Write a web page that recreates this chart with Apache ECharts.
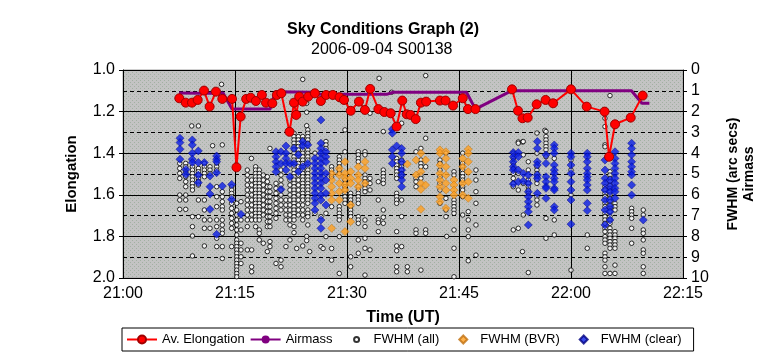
<!DOCTYPE html>
<html>
<head>
<meta charset="utf-8">
<script src="https://cdn.jsdelivr.net/npm/echarts@6/dist/echarts.min.js"></script>
<style>
html,body{margin:0;padding:0;background:#fff;}
#chart{width:766px;height:359px;}
</style>
</head>
<body>
<div id="chart"></div>
<script>
// ---- Data (minutes after 21:00 UT) ----
const timeTicks = ['21:00','21:15','21:30','21:45','22:00','22:15'];
const titleText = 'Sky Conditions Graph (2)';
const subtitleText = '2006-09-04 S00138';

// Av. Elongation [minute, elongation]; null = gap
const avElongation = [
 [7.54,1.136],[8.4,1.157],[9.24,1.157],[10.0,1.144],[10.85,1.099],[11.6,1.176],[12.45,1.104],
 [13.3,1.139],[14.6,1.139],[15.2,1.468],[15.76,1.224],[16.5,1.139],[17.1,1.133],[17.8,1.149],
 [18.6,1.12],[19.15,1.157],[20.0,1.16],[20.6,1.12],[21.2,1.112],[22.3,1.297],[22.9,1.157],
 [23.2,1.216],[23.6,1.128],[24.07,1.152],[24.8,1.128],[25.7,1.112],[26.5,1.149],[27.2,1.12],
 [28.1,1.12],[29.0,1.131],[29.6,1.144],[30.5,1.196],[31.6,1.152],[32.4,1.192],[33.1,1.091],
 [34.2,1.188],[35.0,1.202],[35.85,1.208],[36.65,1.272],[37.4,1.147],[38.0,1.213],[38.5,1.216],
 [39.2,1.236],[39.9,1.157],[40.6,1.152],[42.45,1.147],[43.2,1.147],[44.2,1.171],[45.5,1.136],
 [46.2,1.188],[47.2,1.188],[49.5,null],
 [52.1,1.093],[52.9,1.196],[53.5,1.232],[54.2,1.229],[55.4,1.165],[56.6,1.144],[57.6,1.16],
 [60.0,1.093],[62.1,1.176],[64.5,1.2],[65.1,1.417],[65.9,1.261],[68.0,1.229],[69.6,1.123]
];

// Airmass [minute, airmass]
const airmass = [
 [7.5,1.1],[10.2,1.12],[13.4,1.1],[14.6,1.88],[19.7,1.88],[20.4,1.05],[25.5,1.07],[26.3,1.17],
 [35.3,1.17],[36.2,1.07],[46.0,1.07],[47.2,1.88],[52.0,1.0],[68.1,1.0],[69.5,1.6],[70.5,1.6]
];

// FWHM (all) columns: [minute, [fwhm values]]
const fwhmAllCols = [
 [7.6,[4.49,4.73,4.97,5.21,6.01,6.25,6.7]],
 [8.4,[4.49,4.65,4.89,5.13,5.37,5.61,6.01,6.25,6.7]],
 [9.2,[2.69]],
 [9.3,[4.65,4.81,4.97,5.13,5.29,5.45,5.61,5.77,7.05,7.53,7.98,8.94]],
 [10.1,[2.69,4.73,4.89,5.05,5.21,5.37,5.53,6.25,7.05]],
 [10.9,[4.49,4.65,4.81,4.97,5.13,6.25,6.73,7.21,7.61,8.46]],
 [11.65,[4.65,4.81,4.97,7.21,7.61]],
 [12.0,[3.64]],
 [12.55,[4.49,4.65,4.81,5.61,6.09,6.57,7.21,7.53,8.09,8.49]],
 [13.2,[0.69]],
 [13.3,[3.6,5.85,6.09,6.33,6.57,6.73,7.21,7.45,7.69,7.85,8.49,9.06]],
 [14.55,[5.61,5.77,5.93,6.09,6.41,6.65,6.89,7.13,7.37,7.61,8.49]],
 [15.22,[6.41,6.73,6.97,7.21,7.45,7.69,7.93,8.17,8.33,8.49,8.65,8.81,8.98,9.14,9.3,9.46,9.62,9.78,9.94]],
 [15.8,[6.33,7.21,7.69,8.33,8.65,8.98,9.3]],
 [16.65,[4.81,5.05,5.29,5.53,5.77,6.01,6.25,6.49,6.73,6.97,7.21,7.53,8.65]],
 [17.2,[4.25]],
 [17.23,[5.29,5.53,5.77,6.01,6.25,6.49,6.73,6.97,7.21,8.65,9.46,9.7]],
 [17.76,[4.65,4.81,4.97,5.13,5.29,5.45,5.61,5.77,5.93,6.09,6.25,6.41,6.57,6.73,6.89,7.05,7.21,7.53]],
 [18.25,[4.81,4.97,5.13,5.29,5.45,5.61,5.77,5.93,6.09,6.25,6.41,6.57,6.73,6.89,7.05,7.21,7.69,7.85,8.17]],
 [18.79,[5.05,5.29,5.53,5.77,6.01,6.25,6.49,6.73,6.97,8.33]],
 [19.33,[5.13,5.37,5.61,5.85,6.09,6.33,6.57,6.81,7.05,7.29,7.53,8.73]],
 [19.68,[3.77,5.61,5.85,6.09,6.33,6.57,6.81,7.05,7.29,7.53,8.25,8.49]],
 [20.49,[5.45,5.69,5.93,6.17,6.41,6.65,6.89,7.13,9.3]],
 [21.16,[4.81,5.05,5.29,5.53,5.77,6.01,6.25,6.49,6.73,9.14,9.46]],
 [21.82,[6.25,6.49,6.73,6.97,7.21,8.49]],
 [22.36,[5.29,5.53,5.77,6.01,6.25,6.49,6.73,6.97,7.21,7.45,8.17]],
 [22.9,[3.04,3.2,3.36,3.52,3.68,3.84,4.0,4.17,4.33,4.65,4.81,4.97,5.13,5.29,5.45,5.61,5.77,5.93,6.09,6.25,6.41,6.57,6.73,6.89,7.05,7.21,7.53,7.82]],
 [23.26,[8.58]],
 [23.48,[3.2,3.36,3.52,3.68,3.84,4.0,4.33,4.49,4.65,5.05,5.29,5.53,5.77,6.01,6.25,6.49,6.73,6.97]],
 [24.07,[0.45,3.2,3.36,3.84,4.0,4.17,4.33,4.49,4.81,4.97,5.13,5.29,5.45,5.61,5.77,5.93,6.09,6.25,6.49,6.73,6.97,7.21,8.46]],
 [24.6,[1.6,2.03,2.68,8.0,8.2]],
 [24.75,[2.88,3.04,3.2,3.36,3.52,3.84,4.0,4.17,4.33,4.65,4.81,4.97,5.13,5.29,5.45,5.61,5.77,5.93,6.09,6.25,6.41,6.73,6.89,7.05,7.45]],
 [25.0,[8.73]],
 [25.71,[4.0,6.89]],
 [26.51,[7.05,8.49]],
 [26.8,[8.58]],
 [27.18,[3.44,3.6,3.77,6.89,8.01]],
 [27.94,[4.65,4.81,4.97,5.13,6.57,8.58,9.14]],
 [28.97,[4.17,4.33,4.49,4.65,4.81,4.97,6.57,6.73,6.89,7.05,7.21,8.01,9.78]],
 [29.73,[2.88,3.93,5.29,5.45,5.61,5.77,5.93,6.09,6.25,6.41]],
 [30.49,[5.93,6.09,6.25,6.41,6.57,6.73,6.89,7.05,8.98,9.46]],
 [31.51,[3.93,4.08,4.25,4.41,5.61,5.77,5.93,6.09,6.25,6.41,7.05,7.21,7.37,8.17,8.81]],
 [32.41,[3.93,4.08,5.05,5.21,5.37,5.53,5.69,5.85,7.21,7.53,8.09,8.57,9.86]],
 [33.08,[2.08,5.21,5.45,5.77,8.65]],
 [34.19,[5.37,6.25,7.21,7.34,7.77]],
 [34.3,[0.4]],
 [34.86,[2.96,4.81,4.97,5.13,5.29,5.45,6.73,7.08,7.37]],
 [35.98,[1.07]],
 [36.65,[4.25,4.41,4.57,4.73,4.89,5.05,5.21,5.93,6.09,6.25,6.41,7.77,8.46,8.69,9.46,9.7]],
 [37.32,[2.56,4.33,4.49,4.65,4.81,4.97,5.13,6.25,7.05,8.49]],
 [38.08,[9.46,9.7]],
 [39.24,[3.93,5.21,5.37,5.61,7.69,7.85]],
 [39.9,[3.77,4.33,4.49,4.65,5.05,5.21,9.62]],
 [40.54,[0.27,3.28,4.65,7.69,7.85]],
 [42.45,[4.33,4.49,4.81,5.13,5.45,5.77,6.41]],
 [43.25,[4.0,6.17,6.73,7.05]],
 [43.35,[8.0]],
 [44.33,[4.89,5.05,6.25,6.41,6.57,6.73,6.89,7.69,8.57,9.94]],
 [45.49,[4.0,4.49,4.65,4.81,4.97,5.13,5.29,5.61,5.77,6.09,6.97]],
 [46.24,[6.81,7.21,7.69,8.01,9.17]],
 [47.27,[4.81,5.29,5.85,6.41,7.45,8.9]],
 [52.27,[4.0,4.25,4.49,4.73,4.97,5.21,5.45,5.61,7.69]],
 [52.94,[3.46,3.52,4.97,5.77,7.61]],
 [53.5,[3.46,8.73]],
 [53.61,[3.44,4.08,5.45,6.97]],
 [54.28,[4.41,4.81,5.29,5.45,5.61,5.77,5.93,9.74]],
 [55.44,[3.03,4.0,4.65,4.81,4.97,5.13,5.29,5.45,6.09,6.25,6.49]],
 [56.5,[2.9]],
 [56.65,[2.96,3.2,3.36,3.52,3.68,3.84,4.17,7.13,8.09]],
 [57.76,[4.25,7.21,7.93]],
 [60.0,[4.33,4.81,6.01,9.62]],
 [62.18,[7.93,8.57]],
 [64.55,[2.32,2.72,3.6,3.69,5.61,5.77,5.93,6.09,6.41,6.57,6.89,7.05,7.21,7.37,7.61,7.77,8.01,8.17,8.33,8.81,8.98,9.14,9.46,9.78]],
 [65.22,[1.23,4.89,5.05,5.21,5.37,5.53,5.69,5.85,6.01,6.17,6.33,6.49,6.65,6.81,7.05,7.21,7.37,7.61,7.77,7.93,8.09,8.25,8.41,8.57,9.78]],
 [65.89,[6.41,6.57,6.73,7.77,7.93,8.09,8.25,8.41,8.57,9.38,9.78]],
 [68.12,[6.65,6.81,6.97,7.13,7.61,8.33]],
 [69.68,[6.73,6.97,7.69,7.85,8.17,8.65,8.81,9.46,9.78]]
];

// FWHM (BVR) columns
const fwhmBvrCols = [
 [27.94,[4.97,5.29,5.61,5.93,6.25,7.61]],
 [28.97,[4.73,5.05,5.45,5.85,6.25]],
 [29.73,[4.41,4.97,5.21,5.53,5.77,7.77]],
 [30.49,[4.89,5.21,5.45,6.49,7.29]],
 [31.51,[4.65,5.05,5.29,5.61]],
 [32.41,[4.41,4.73,5.45]],
 [38.08,[4.52]],
 [39.24,[4.33,5.05]],
 [39.9,[4.0,4.89,5.45,5.74,6.7]],
 [40.53,[4.33,5.53]],
 [42.45,[3.84,4.0,4.57,4.97,5.29,5.61,6.09,6.33]],
 [43.25,[3.93,4.25,4.65,5.05,5.45,5.77,6.65]],
 [44.33,[5.29,5.53,5.77,6.01]],
 [45.49,[4.25,4.65,5.45,6.01]],
 [46.24,[3.81,4.0,4.41,4.89,5.37,6.17]]
];

// FWHM (clear) columns
const fwhmClearCols = [
 [7.63,[3.28,3.49,3.81,4.29]],
 [8.43,[4.78,5.02]],
 [9.28,[3.36,3.6,4.0,4.29,4.45]],
 [10.09,[3.89,4.45,5.05,5.42]],
 [10.89,[4.45]],
 [11.65,[5.1,5.61,5.96,6.7]],
 [12.54,[4.13,4.29,4.41,4.94,7.9]],
 [13.3,[5.58]],
 [14.55,[5.5,6.22]],
 [15.8,[6.94]],
 [20.49,[3.93,4.17,4.41,4.65,4.89]],
 [21.16,[3.93,4.49,5.74]],
 [21.82,[3.65,4.0,4.25,4.49,4.81]],
 [22.36,[4.49,5.13]],
 [22.9,[3.77,4.49]],
 [23.48,[4.08,4.89]],
 [24.06,[3.44,3.65,4.65]],
 [24.75,[3.6,4.49]],
 [25.71,[4.25,4.49,4.73,4.97,5.21,5.45,5.69,5.93,6.17,6.41,6.73]],
 [26.51,[2.4,3.52,3.77,4.0,4.25,4.49,4.73,4.97,5.21,5.45,5.69,6.01,6.25,7.21,7.61]],
 [27.18,[3.93,4.17,4.41,4.97,5.29,5.93,6.49]],
 [36.07,[2.85,3.04,3.84,4.17,4.49]],
 [36.65,[3.65]],
 [37.32,[3.77,4.0,4.41,4.81,5.05,5.29,5.61]],
 [52.27,[3.97,4.17,4.41,4.65,4.81,5.48]],
 [52.94,[3.97,4.17,4.81,5.37]],
 [53.61,[4.97,5.34]],
 [54.28,[5.05,5.45,5.85,6.09,6.33,6.57,6.81,7.45]],
 [55.49,[3.44,3.77,4.41,4.57,5.05,5.21,5.93]],
 [56.65,[4.08,4.49,5.13,5.37,5.61,5.69,6.17]],
 [57.76,[3.6,3.77,4.0,4.57,4.81,4.97,5.21,5.37,5.69,5.77,6.57,6.73]],
 [60.0,[4.0,4.17,4.57,4.97,5.37,5.77,6.25,7.41]],
 [62.18,[4.0,4.17,4.41,4.73,4.97,5.13,5.29,5.53,5.77,6.41,6.76]],
 [64.55,[4.33,4.81,5.21,5.45,5.77,6.25,6.73,7.45]],
 [65.22,[5.29,5.61,5.85,6.25,6.57,6.81,7.21]],
 [65.89,[3.93,4.25,4.49,4.73,4.97,5.21,5.45,5.69,5.85,6.17]],
 [68.12,[3.52,3.77,4.08,4.41,4.65,4.89,5.05,5.53,6.01]],
 [69.68,[7.21]]
];

function toPoints(cols){
  const out = [];
  cols.forEach(function(c){ c[1].forEach(function(v){ out.push([c[0], v]); }); });
  return out;
}

// dotted plot-area fill (Excel style texture)
const pat = document.createElement('canvas');
pat.width = 4; pat.height = 4;
(function(){
  const c = pat.getContext('2d');
  c.fillStyle = '#c3c3c3'; c.fillRect(0,0,4,4);
  c.fillStyle = '#a2b0a2'; c.fillRect(0,0,1,1); c.fillRect(2,2,1,1);
})();

// legend icons for marker-only series (small marker inside a 30x8 key)
const iconCircle = 'path://M0,0M30,8M15.5,4A2.5,2.5 0 1 1 20.5,4A2.5,2.5 0 1 1 15.5,4Z';
const iconDiamond = 'path://M0,0M30,8M18,0L22,4L18,8L14,4Z';

const FONT = '"Liberation Sans", Arial, sans-serif';
const chart = echarts.init(document.getElementById('chart'), null, {renderer:'canvas'});
chart.setOption({
  animation:false,
  backgroundColor:'#ffffff',
  textStyle:{fontFamily:FONT, color:'#000'},
  title:[
    {text:titleText, left:'center', top:17, textStyle:{fontFamily:FONT, fontSize:16, fontWeight:'bold', color:'#000'}},
    {text:subtitleText, left:306, top:37, textStyle:{fontFamily:FONT, fontSize:16, fontWeight:'normal', color:'#000'}}
  ],
  grid:{left:123, right:83, top:70, bottom:81, show:true,
        backgroundColor:{image:pat, repeat:'repeat'}, borderColor:'#a0a0a0', borderWidth:1},
  legend:{
    left:122, top:328, orient:'horizontal',
    borderColor:'#000', borderWidth:1, padding:[5,12,5,4],
    itemGap:5, itemWidth:30, itemHeight:10, symbolKeepAspect:true,
    textStyle:{fontFamily:FONT, fontSize:13, color:'#000'},
    data:[
      {name:'Av. Elongation'},
      {name:'Airmass'},
      {name:'FWHM (all)', icon:iconCircle},
      {name:'FWHM (BVR)', icon:iconDiamond},
      {name:'FWHM (clear)', icon:iconDiamond}
    ]
  },
  xAxis:{
    type:'value', min:0, max:75, interval:15,
    name:'Time (UT)', nameLocation:'middle', nameGap:32,
    nameTextStyle:{fontFamily:FONT, fontSize:16, fontWeight:'bold', color:'#000'},
    axisLine:{show:true, lineStyle:{color:'#000', width:1}},
    axisTick:{show:true, length:5, lineStyle:{color:'#000'}},
    axisLabel:{fontFamily:FONT, fontSize:16, color:'#000', margin:8,
      formatter:function(v){ return timeTicks[Math.round(v/15)]; }},
    splitLine:{show:true, lineStyle:{color:'#000', width:1}}
  },
  yAxis:[
    {
      type:'value', inverse:true, min:1, max:2, interval:0.2, position:'left',
      name:'Elongation', nameLocation:'middle', nameGap:44, nameRotate:90,
      nameTextStyle:{fontFamily:FONT, fontSize:15, fontWeight:'bold', color:'#000'},
      axisLine:{show:true, lineStyle:{color:'#000', width:1}},
      axisTick:{show:true, length:4, lineStyle:{color:'#000'}},
      axisLabel:{fontFamily:FONT, fontSize:16, color:'#000', margin:8,
        formatter:function(v){ return v.toFixed(1); }},
      splitLine:{show:true, lineStyle:{color:'#000', width:1}}
    },
    {
      type:'value', inverse:true, min:0, max:10, interval:1, position:'right',
      name:'FWHM (arc secs)\nAirmass', nameLocation:'middle', nameGap:42, nameRotate:90,
      nameTextStyle:{fontFamily:FONT, fontSize:14, fontWeight:'bold', color:'#000', lineHeight:16},
      axisLine:{show:true, lineStyle:{color:'#000', width:1}},
      axisTick:{show:true, length:4, lineStyle:{color:'#000'}},
      axisLabel:{fontFamily:FONT, fontSize:16, color:'#000', margin:8},
      splitLine:{show:true, lineStyle:{color:'#000', width:1, type:[4,3]}}
    }
  ],
  series:[
    {
      name:'Av. Elongation', type:'line', yAxisIndex:0, data:avElongation,
      symbol:'circle', symbolSize:9, connectNulls:false, z:6,
      lineStyle:{color:'#ff0000', width:2},
      itemStyle:{color:'#ff0000', borderColor:'#a00000', borderWidth:1}
    },
    {
      name:'Airmass', type:'line', yAxisIndex:1, data:airmass,
      symbol:'none', z:5,
      lineStyle:{color:'#800080', width:3},
      itemStyle:{color:'#800080'}
    },
    {
      name:'FWHM (all)', type:'scatter', yAxisIndex:1, data:toPoints(fwhmAllCols),
      symbol:'circle', symbolSize:4.5, z:2,
      itemStyle:{color:'#ffffff', borderColor:'#000000', borderWidth:1}
    },
    {
      name:'FWHM (BVR)', type:'scatter', yAxisIndex:1, data:toPoints(fwhmBvrCols),
      symbol:'diamond', symbolSize:8, z:3,
      itemStyle:{color:'#ffa020', borderColor:'#c07010', borderWidth:0.6}
    },
    {
      name:'FWHM (clear)', type:'scatter', yAxisIndex:1, data:toPoints(fwhmClearCols),
      symbol:'diamond', symbolSize:8, z:4,
      itemStyle:{color:'#0a1ee6', borderColor:'#000080', borderWidth:0.6}
    }
  ]
});
</script>
</body>
</html>
